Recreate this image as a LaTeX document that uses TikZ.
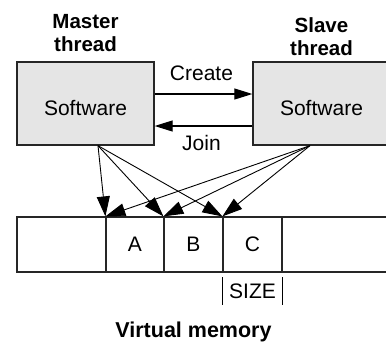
\documentclass[tikz,border=0pt]{standalone}
\usepackage{fontspec}
\setmainfont{Liberation Sans}
\usetikzlibrary{arrows.meta}
\tikzset{
  swbox/.style={draw=black!85, line width=1.3pt, fill=black!10, minimum width=137pt, minimum height=83pt, inner sep=0pt},
  cell/.style={draw=black!85, line width=1.2pt, minimum height=55pt, inner sep=0pt},
  lbl/.style={anchor=base, inner sep=0pt},
  hdr/.style={lbl, font=\fontsize{20.5}{24}\selectfont\bfseries},
  flow/.style={line width=1.1pt, -{Triangle[length=18pt,width=11pt]}},
  ptr/.style={line width=0.9pt, -{Triangle[length=20pt,width=13pt]}}
}
\begin{document}
\begin{tikzpicture}[x=1pt, y=-1pt, font=\fontsize{21}{25}\selectfont]
\useasboundingbox (0,0) rectangle (386,341);
\clip (0,0) rectangle (386,341);

% thread headings
\node[hdr] (mh1) at (85.5,28) {Master};
\node[hdr] (mh2) at (85.5,51) {thread};
\node[hdr] (sh1) at (321.5,32) {Slave};
\node[hdr] (sh2) at (321.5,55) {thread};

% thread boxes
\node[swbox] (master) at (85.5,103.5) {};
\node[swbox] (slave) at (321.5,103.5) {};
\node[lbl] (msw) at (85.5,115) {Software};
\node[lbl] (ssw) at (321.5,115) {Software};

% create / join
\draw[flow] (master.east |- 0,94) -- (slave.west |- 0,94);
\draw[flow] (slave.west |- 0,126) -- (master.east |- 0,126);
\node[lbl] (create) at (201.5,80) {Create};
\node[lbl] (join) at (201.5,150) {Join};

% memory strip
\node[cell, minimum width=89pt] (c0) at (61.5,244.5) {};
\node[cell, minimum width=58pt] (ca) at (135,244.5) {A};
\node[cell, minimum width=59pt] (cb) at (193.5,244.5) {B};
\node[cell, minimum width=59pt] (cc) at (252.5,244.5) {C};
\node[cell, minimum width=110pt] (c4) at (337,244.5) {};

% size marker
\node[lbl] (size) at (252.5,298) {SIZE};
\draw[line width=1pt] (cc.south west |- 0,277) -- (cc.south west |- 0,305);
\draw[line width=1pt] (cc.south east |- 0,277) -- (cc.south east |- 0,305);

\node[hdr, font=\fontsize{21.5}{25}\selectfont\bfseries] (vm) at (193.5,337) {Virtual memory};

% pointers into memory
\coordinate (mo) at ([xshift=12.5pt]master.south);
\coordinate (so) at ([xshift=-11.5pt]slave.south);
\draw[ptr] (mo) -- (ca.north west);
\draw[ptr] (mo) -- (cb.north west);
\draw[ptr] (mo) -- (cc.north west);
\draw[ptr] (so) -- (ca.north west);
\draw[ptr] (so) -- (cb.north west);
\draw[ptr] (so) -- (cc.north west);
\end{tikzpicture}
\end{document}
